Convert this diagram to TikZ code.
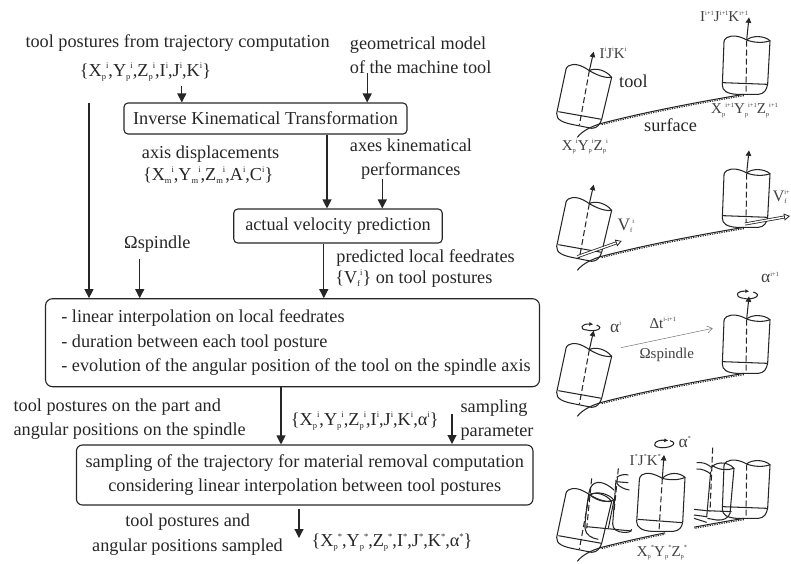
\documentclass[tikz,border=0pt]{standalone}
\usepackage{fontspec}
\setmainfont{Liberation Serif}
\usetikzlibrary{arrows.meta}
\newcommand\fmain{\fontsize{18.25}{24.3}\selectfont}
\newcommand\flab{\fontsize{15}{16}\selectfont}
\newcommand\fvel{\fontsize{17.5}{18}\selectfont}
\newcommand\fvelb{\fontsize{16}{18}\selectfont}
\newcommand\smf{\fontsize{8.5}{9}\selectfont}
\newcommand\tsm{\fontsize{6.5}{7}\selectfont}
\newcommand\XS[3]{#1\raisebox{-3pt}{\smf #2}\raisebox{7.5pt}{\smf #3}}
\newcommand\XU[2]{#1\raisebox{7.5pt}{\smf #2}}
\newcommand\LS[3]{#1\raisebox{-2.5pt}{\tsm #2}\raisebox{6.5pt}{\tsm #3}}
\newcommand\LU[2]{#1\raisebox{6.5pt}{\tsm #2}}
\tikzset{
  txt/.style={anchor=base west,inner sep=0pt,font=\fmain,text=black!85},
  lab/.style={anchor=base west,inner sep=0pt,font=\flab,text=black!75},
  boxa/.style={draw=black!85,line width=1.1pt,rounded corners=4pt,inner sep=0pt,font=\fmain,text=black!85},
  arr/.style={draw=black!85,line width=1.1pt,-{Triangle[length=9pt,width=9pt]}},
  toolline/.style={draw=black!85,line width=1.05pt},
  toolaxis/.style={draw=black!85,line width=1.05pt,dash pattern=on 6pt off 3pt},
  toolarr/.style={draw=black!85,line width=1.05pt,-{Triangle[length=5.5pt,width=5.5pt]}},
  dblarr/.style={draw=black!85,line width=.8pt,double,double distance=1.4pt,-{Triangle[open,length=6pt,width=7pt]}},
  pan/.style={x=.33333pt,y=-.33333pt},
}
\newcommand\uprighttool{%
  \draw[toolline] (683,252) -- (690,122) .. controls (672,106) and (635,106) .. (620,120);
  \draw[toolline] (549,248) -- (683,253);
  \draw[toolline] (690,122) .. controls (670,130) and (640,128) .. (620,120) .. controls (600,108) and (575,104) .. (560,113) .. controls (554,117) and (552,121) .. (552,125) -- (547,255) .. controls (547,272) and (560,281) .. (590,283) -- (655,283) .. controls (672,282) and (680,270) .. (683,252);
  \draw[toolaxis] (620,122) -- (618,283);
}
\newcommand\tiltedtool{%
  \draw[toolline] (185,358) -- (215,232) .. controls (198,210) and (165,202) .. (148,212);
  \draw[toolline] (55,335) -- (185,358);
  \draw[toolline] (215,232) .. controls (195,235) and (170,225) .. (148,212) .. controls (125,195) and (100,188) .. (85,198) .. controls (80,202) and (78,205) .. (78,208) -- (50,340) .. controls (48,360) and (70,368) .. (100,374) -- (155,385) .. controls (172,385) and (180,372) .. (185,358);
  \draw[toolaxis] (148,212) -- (118,376);
}
\newcommand\surfacecurve{%
  \draw[toolline] (112,412) .. controls (125,395) and (150,380) .. (185,370) .. controls (300,340) and (450,310) .. (612,283);
  \draw[draw=black!85,line width=1.1pt,dash pattern=on 1.2pt off 1.2pt] (185,374) .. controls (300,344) and (450,314) .. (612,287);
}
\begin{document}
\begin{tikzpicture}[x=1pt,y=-1pt]
\useasboundingbox (0,0) rectangle (791,563);
% ---- boxes
\node[boxa,minimum width=283pt,minimum height=31pt] (ikt) at (265.5,118.5) {Inverse Kinematical Transformation};
\node[boxa,minimum width=208.5pt,minimum height=34pt] (vel) at (338,226) {actual velocity prediction};
\node[boxa,rounded corners=7pt,minimum width=494pt,minimum height=88pt,align=left] (lin) at (292.5,342.7) {\hspace*{7pt}- linear interpolation on local feedrates\\\hspace*{7pt}- duration between each tool posture\\\hspace*{7pt}- evolution of the angular position of the tool on the spindle axis};
\node[boxa,rounded corners=6pt,minimum width=456.5pt,minimum height=60pt,align=center] (sam) at (304.7,475) {sampling of the trajectory for material removal computation\\considering linear interpolation between tool postures};
% ---- labels
\node[txt] (t1) at (25.3,47.5) {tool postures from trajectory computation};
\node[txt] (t2) at (79.7,76) {\{\XS{X}{p}{i},\XS{Y}{p}{i},\XS{Z}{p}{i},\XU{I}{i},\XU{J}{i},\XU{K}{i}\}};
\node[txt] (t3) at (349.7,49) {geometrical model};
\node[txt] (t4) at (349.7,73) {of the machine tool};
\node[txt] (t5) at (141.7,158) {axis displacements};
\node[txt] (t6) at (142.8,180) {\{\XS{X}{m}{i},\XS{Y}{m}{i},\XS{Z}{m}{i},\XU{A}{i},\XU{C}{i}\}};
\node[txt] (t7) at (349.7,151.5) {axes kinematical};
\node[txt] (t8) at (361,175.5) {performances};
\node[txt] (t9) at (124,248) {Ωspindle};
\node[txt] (t10) at (336.2,262) {predicted local feedrates};
\node[txt] (t11) at (335.2,283) {\{\XS{V}{f}{i}\} on tool postures};
\node[txt] (t12) at (13.4,411) {tool postures on the part and};
\node[txt] (t13) at (13.4,435) {angular positions on the spindle};
\node[txt] (t14) at (290.7,425) {\{\XS{X}{p}{i},\XS{Y}{p}{i},\XS{Z}{p}{i},\XU{I}{i},\XU{J}{i},\XU{K}{i},\XU{α}{i}\}};
\node[txt] (t15) at (460.4,412) {sampling};
\node[txt] (t16) at (460.4,436) {parameter};
\node[txt] (t17) at (125.2,526.7) {tool postures and};
\node[txt] (t18) at (92,551.7) {angular positions sampled};
\node[txt] (t19) at (311.4,546.7) {\{\XS{X}{p}{*},\XS{Y}{p}{*},\XS{Z}{p}{*},\XU{I}{*},\XU{J}{*},\XU{K}{*},\XU{α}{*}\}};
% ---- free ends of connectors
\coordinate (aS) at (89,103);
\coordinate (bS) at (139.7,259);
\coordinate (fS) at (181.8,86);
\coordinate (gS) at (367.2,73);
\coordinate (dX) at (327,170);
\coordinate (eS) at (382.3,179);
\coordinate (cX) at (323.8,270);
\coordinate (hX) at (281,420);
\coordinate (iS) at (452,414);
\coordinate (iE) at (452,444);
\coordinate (jS) at (299,509);
\coordinate (jE) at (299,538);
% ---- connectors
\draw[arr] (aS) -- (aS |- lin.north);
\draw[arr] (bS) -- (bS |- lin.north);
\draw[arr] (fS) -- (fS |- ikt.north);
\draw[arr] (gS) -- (gS |- ikt.north);
\draw[arr] (ikt.south -| dX) -- (vel.north -| dX);
\draw[arr] (eS) -- (eS |- vel.north);
\draw[arr] (vel.south -| cX) -- (lin.north -| cX);
\draw[arr] (lin.south -| hX) -- (sam.north -| hX);
\draw[arr] (iS) -- (iE);
\draw[arr] (jS) -- (jE);
% ---- panel 1
\begin{scope}[shift={(540,0)},pan]
  \surfacecurve \tiltedtool \uprighttool
  \draw[toolarr] (148,212) -- (161,155);
  \draw[toolarr] (620,120) -- (627,52);
  \node[lab] (p1a) at (178,175) {\LU{I}{i}\LU{J}{i}\LU{K}{i}};
  \node[lab] (p1b) at (480,65) {\LU{I}{i+1}\LU{J}{i+1}\LU{K}{i+1}};
  \node[lab] (p1c) at (513,341) {\LS{X}{p}{i+1}\LS{Y}{p}{i+1}\LS{Z}{p}{i+1}};
  \node[lab] (p1d) at (65,450) {\LS{X}{p}{i}\LS{Y}{p}{i}\LS{Z}{p}{i}};
  \node[txt] (p1e) at (237,263) {tool};
  \node[txt] (p1f) at (312,394) {surface};
\end{scope}
% ---- panel 2
\begin{scope}[shift={(540,133)},pan]
  \surfacecurve \tiltedtool \uprighttool
  \draw[toolarr] (148,212) -- (161,155);
  \draw[toolarr] (620,120) -- (627,52);
\end{scope}
\begin{scope}[shift={(540,160)},pan]
  \draw[dblarr] (112,290) -- (245,243);
  \draw[dblarr] (615,192) -- (750,168);
  \node[lab,font=\fvel] (p2a) at (232,211) {\LS{V}{f}{i}};
  \node[lab,font=\fvelb] (p2b) at (698,123) {V\rlap{\raisebox{-2.5pt}{\tsm f}}\raisebox{6.5pt}{\tsm i+}};
\end{scope}
% ---- panel 3
\begin{scope}[shift={(540,279)},pan]
  \surfacecurve \tiltedtool \uprighttool
  \draw[toolarr] (148,212) -- (161,155);
  \draw[toolarr] (620,120) -- (627,52);
\end{scope}
\begin{scope}[shift={(540,270)},pan]
  \draw[toolline,-{Latex[length=4pt,width=4pt]}] (140,180) .. controls (115,178) and (125,160) .. (160,163);
  \draw[toolline] (140,180) .. controls (165,187) and (195,175) .. (170,165);
  \draw[toolline,-{Latex[length=4pt,width=4pt]}] (610,85) .. controls (580,80) and (590,62) .. (628,64);
  \draw[toolline] (610,85) .. controls (640,92) and (670,75) .. (640,66);
  \draw[draw=black!55,line width=.5pt,-{Straight Barb[length=5pt,width=7pt]}] (243,233) -- (518,175);
  \node[lab,font=\fvel] (p3a) at (210,186) {\LU{α}{i}};
  \node[lab,font=\fvel] (p3b) at (663,38) {\LU{α}{i+1}};
  \node[lab] (p3c) at (328,175) {\LU{Δt}{i-i+1}};
  \node[lab] (p3d) at (298,265) {Ωspindle};
\end{scope}
% ---- panel 4
\begin{scope}[shift={(540,424)},pan]
  \begin{scope}
    \clip (100,100) rectangle (375,480);
    \surfacecurve
  \end{scope}
  \begin{scope}
    \clip (462,100) rectangle (700,480);
    \surfacecurve
  \end{scope}
  \tiltedtool \uprighttool
\end{scope}
\begin{scope}[shift={(540,400)},pan]
  % second tool
  \draw[toolline] (135,385) .. controls (133,375) and (145,270) .. (152,262) .. controls (165,238) and (195,245) .. (222,270);
  \draw[toolline] (150,285) .. controls (170,272) and (205,280) .. (222,300) -- (205,385);
  \draw[toolline] (150,285) .. controls (175,305) and (200,308) .. (222,300);
  \draw[toolline] (135,385) .. controls (137,405) and (155,415) .. (175,418);
  \draw[toolline] (140,380) -- (275,393);
  \draw[toolaxis] (155,235) -- (140,385);
  % third tool
  \draw[toolline] (228,240) -- (218,372) .. controls (218,388) and (232,396) .. (250,397) -- (258,397) .. controls (270,397) and (275,392) .. (275,388);
  \draw[toolline] (230,232) .. controls (240,224) and (255,222) .. (265,225);
  \draw[toolline] (230,250) .. controls (240,262) and (255,268) .. (268,270);
  \draw[toolline] (228,245) -- (265,248);
  \draw[toolaxis] (235,205) -- (222,335);
  % central tool
  \draw[toolline] (428,368) -- (435,232) .. controls (418,216) and (385,216) .. (367,235);
  \draw[toolline] (435,232) .. controls (415,242) and (385,240) .. (367,235) .. controls (345,222) and (320,214) .. (305,225) .. controls (300,228) and (298,235) .. (298,240) -- (290,365) .. controls (290,382) and (305,392) .. (335,394) -- (400,394) .. controls (418,392) and (425,382) .. (428,368);
  \draw[toolline] (293,358) -- (427,368);
  \draw[toolaxis] (367,235) -- (357,392);
  \draw[toolarr] (367,235) -- (372,165);
  \draw[toolline,-{Latex[length=4pt,width=4pt]}] (355,142) .. controls (330,135) and (350,118) .. (385,122);
  \draw[toolline] (355,142) .. controls (385,148) and (420,130) .. (390,122);
  % fifth tool fragments
  \draw[toolline] (470,188) .. controls (485,186) and (500,190) .. (512,200);
  \draw[toolline] (470,207) .. controls (485,206) and (500,212) .. (512,222);
  \draw[toolline] (512,215) -- (500,352);
  \draw[toolline] (462,328) -- (500,332);
  \draw[toolline] (462,345) -- (500,350);
  \draw[toolline] (462,355) -- (500,367);
  % sixth tool
  \draw[toolline] (512,205) .. controls (525,185) and (560,182) .. (582,205) -- (570,340) .. controls (565,355) and (550,362) .. (530,360) -- (502,355);
  \draw[toolline] (515,195) .. controls (535,210) and (560,212) .. (582,205);
  \draw[toolline] (500,332) -- (575,335);
  \draw[toolaxis] (518,143) -- (510,335);
  % labels
  \node[lab,font=\fvel] (p4a) at (415,141) {\LU{α}{*}};
  \node[lab] (p4b) at (268,195) {\LU{I}{*}\LU{J}{*}\LU{K}{*}};
  \node[lab] (p4c) at (290,468) {\LS{X}{p}{*}\LS{Y}{p}{*}\LS{Z}{p}{*}};
\end{scope}
\end{tikzpicture}
\end{document}
